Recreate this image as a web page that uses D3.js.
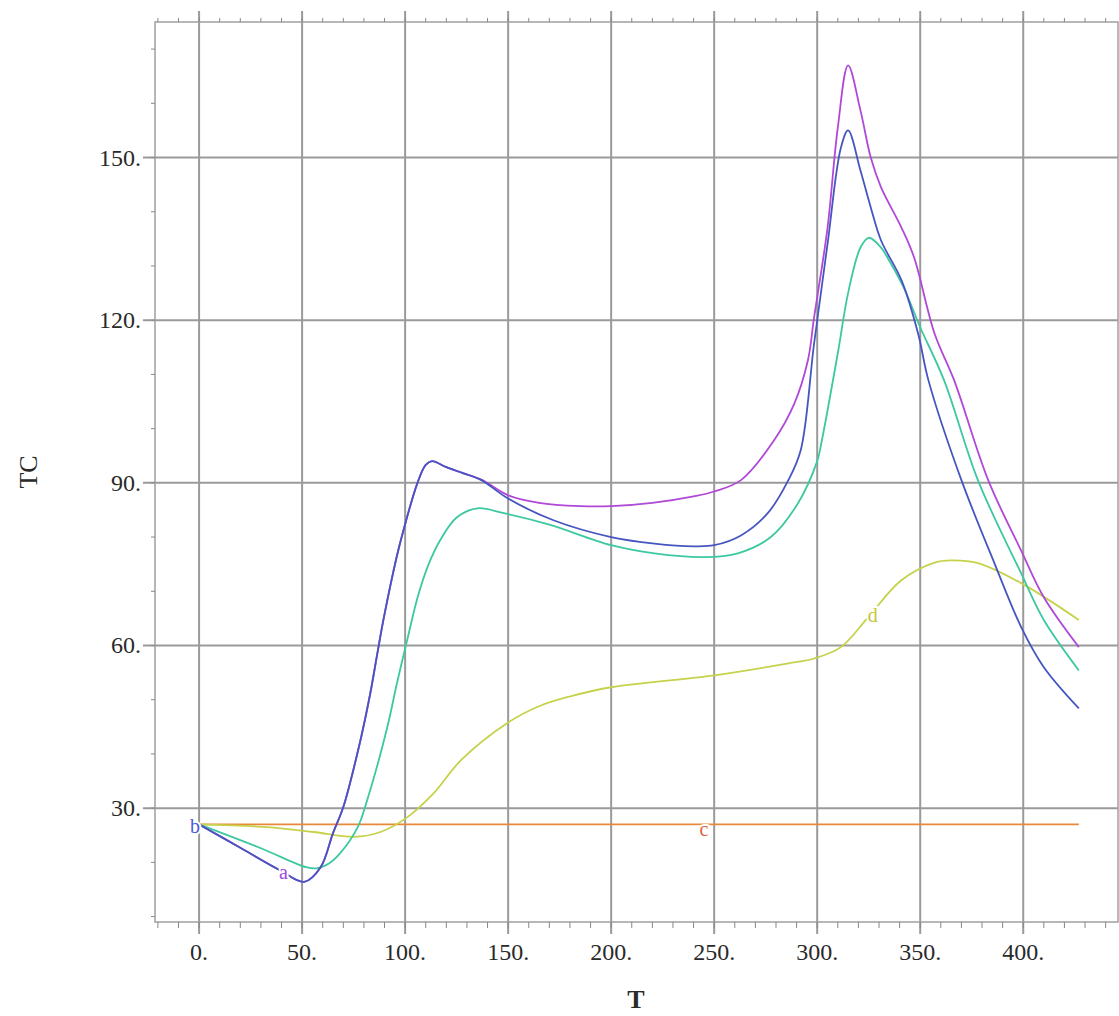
<!DOCTYPE html>
<html>
<head>
<meta charset="utf-8">
<script src="https://cdn.jsdelivr.net/npm/d3@7"></script>
<style>
  body { margin: 0; background: #fff; }
  svg { display: block; }
</style>
</head>
<body>
<div id="chart"></div>
<script>
// curve a (magenta)
const aT = [0, 20, 39, 51, 59, 65, 70, 78, 83, 86.5, 89.6, 96, 99, 106, 110, 113, 120, 128, 137, 150, 165, 185, 200, 220, 240, 250, 263, 279, 289, 295.5, 298.5, 305, 310, 315, 321, 326, 331, 341, 347, 357, 366.5, 383, 399, 410, 427];
const aTC = [27, 22.7, 18.6, 16.4, 19.1, 25.4, 30.2, 42, 51, 58.5, 65, 76.5, 81, 90, 93.3, 94, 92.9, 91.8, 90.6, 87.7, 86.3, 85.7, 85.7, 86.3, 87.5, 88.4, 90.5, 97.8, 104.7, 112.6, 120.5, 137, 155.5, 167, 158.7, 150, 144.5, 137, 131.6, 117.5, 108.9, 90.5, 77.5, 68.9, 59.7];

// curve b (blue)
const bT = [0, 20, 39, 51, 59, 65, 70, 78, 83, 86.5, 89.6, 96, 99, 106, 110, 113, 120, 128, 137, 150, 172, 200, 221, 240, 250, 263, 276, 286, 292, 298.5, 305, 311.5, 315, 321, 326, 331, 341, 349, 354, 370, 386, 399, 410, 427];
const bTC = [27, 22.7, 18.6, 16.4, 19.1, 25.4, 30.2, 42, 51, 58.5, 65, 76.5, 81, 90, 93.3, 94, 92.9, 91.8, 90.5, 87.1, 83.1, 80, 78.8, 78.3, 78.5, 80.3, 84.4, 90.5, 96, 115.7, 134, 151.8, 155, 147.6, 140.8, 134.7, 127.3, 117.5, 108.9, 90.5, 75.2, 63.4, 56, 48.4];

// teal curve
const gT = [0, 30, 52, 57, 63, 68.5, 77, 81.6, 91.4, 96, 101, 106, 111, 117, 125, 135, 148, 170, 200, 221, 245, 261.5, 277.5, 290.6, 300, 302, 310, 315, 321, 325, 331, 334, 342, 350, 361.6, 378, 399, 410, 427];
const gTC = [27, 22.6, 19.1, 18.9, 19.8, 21.7, 26.5, 31.5, 45, 53, 61, 68.8, 74.6, 79.4, 83.6, 85.3, 84.4, 82.3, 78.5, 77, 76.3, 77, 80, 86.2, 94, 97.3, 113.9, 125, 133.4, 135.2, 133.4, 131.6, 126, 118.7, 108.9, 90.5, 73.3, 64.7, 55.4];

// curve c (orange, constant)
const cT = [0, 427];
const cTC = [27, 27];

// curve d (yellow-green)
const dT = [0, 33, 55.6, 75, 88, 101, 114, 127, 150, 165, 179, 200, 250, 286, 298.5, 311.5, 324.7, 340.7, 357, 365, 378, 399, 427];
const dTC = [27, 26.5, 25.6, 24.7, 25.6, 28.3, 32.8, 38.8, 45.8, 48.8, 50.5, 52.3, 54.5, 56.7, 57.6, 59.7, 65.2, 72, 75.3, 75.7, 75.2, 71.5, 64.7];

const xTicks = [0, 50, 100, 150, 200, 250, 300, 350, 400];
const yTicks = [30, 60, 90, 120, 150];

// curve labels: text, T, TC
const labelText = ["b", "a", "c", "d"];
const labelT = [-2, 41, 245, 327];
const labelTC = [26.5, 18, 26, 65.5];
const labelColor = ["#4a5ad8", "#a048e0", "#e0603c", "#c2c836"];

const W = 1119, H = 1016;
const mLeft = 155, mRight = 1118, mTop = 22, mBottom = 922;

const svg = d3.select("#chart").append("svg")
  .attr("width", W)
  .attr("height", H);

const x = d3.scaleLinear().domain([-21.4, 446]).range([mLeft, mRight]);
const y = d3.scaleLinear().domain([9, 175]).range([mBottom, mTop]);

const gridColor = "#9a9a9a";
const font = "'Liberation Serif', 'DejaVu Serif', serif";

// minor ticks every 10
const minorX = d3.range(-20, 446, 10);
const minorY = d3.range(10, 175, 10);

// gridlines (extend a little past frame like the original)
svg.append("g").selectAll("line")
  .data(xTicks).enter().append("line")
  .attr("x1", d => x(d)).attr("x2", d => x(d))
  .attr("y1", mTop - 11).attr("y2", mBottom + 12)
  .attr("stroke", gridColor).attr("stroke-width", 2);

svg.append("g").selectAll("line")
  .data(yTicks).enter().append("line")
  .attr("x1", mLeft - 12).attr("x2", mRight)
  .attr("y1", d => y(d)).attr("y2", d => y(d))
  .attr("stroke", gridColor).attr("stroke-width", 2);

// frame
svg.append("rect")
  .attr("x", mLeft).attr("y", mTop)
  .attr("width", mRight - mLeft).attr("height", mBottom - mTop)
  .attr("fill", "none").attr("stroke", "#a0a0a0").attr("stroke-width", 1.5);

// minor ticks: bottom, top, left
svg.append("g").selectAll("line")
  .data(minorX).enter().append("line")
  .attr("x1", d => x(d)).attr("x2", d => x(d))
  .attr("y1", mBottom).attr("y2", mBottom + 6)
  .attr("stroke", "#888").attr("stroke-width", 1);

svg.append("g").selectAll("line")
  .data(minorX).enter().append("line")
  .attr("x1", d => x(d)).attr("x2", d => x(d))
  .attr("y1", mTop).attr("y2", mTop - 4)
  .attr("stroke", "#888").attr("stroke-width", 1);

svg.append("g").selectAll("line")
  .data(minorY).enter().append("line")
  .attr("x1", mLeft).attr("x2", mLeft - 4)
  .attr("y1", d => y(d)).attr("y2", d => y(d))
  .attr("stroke", "#888").attr("stroke-width", 1);

// tick labels
svg.append("g").selectAll("text")
  .data(xTicks).enter().append("text")
  .attr("x", d => x(d)).attr("y", 960)
  .attr("text-anchor", "middle")
  .style("font-family", font).style("font-size", "24px").style("fill", "#2a2a2a")
  .text(d => d + ".");

svg.append("g").selectAll("text")
  .data(yTicks).enter().append("text")
  .attr("x", 141).attr("y", d => y(d) + 8)
  .attr("text-anchor", "end")
  .style("font-family", font).style("font-size", "24px").style("fill", "#2a2a2a")
  .text(d => d + ".");

// axis titles
svg.append("text")
  .attr("x", 636).attr("y", 1008)
  .attr("text-anchor", "middle")
  .style("font-family", font).style("font-size", "26px").style("font-weight", "bold").style("fill", "#2a2a2a")
  .text("T");

svg.append("text")
  .attr("transform", "translate(37,472) rotate(-90)")
  .attr("text-anchor", "middle")
  .style("font-family", font).style("font-size", "26px").style("fill", "#2a2a2a")
  .text("TC");

// curves
const line = d3.line()
  .x(d => x(d[0]))
  .y(d => y(d[1]))
  .curve(d3.curveCatmullRom.alpha(0.5));

const series = [
  { t: cT, v: cTC, color: "#e8883a" },
  { t: dT, v: dTC, color: "#c6d24a" },
  { t: gT, v: gTC, color: "#3cc8a0" },
  { t: aT, v: aTC, color: "#b048d8" },
  { t: bT, v: bTC, color: "#4656c0" }
];

svg.append("g").selectAll("path")
  .data(series).enter().append("path")
  .attr("d", s => line(s.t.map((t, i) => [t, s.v[i]])))
  .attr("fill", "none")
  .attr("stroke", s => s.color)
  .attr("stroke-width", 1.8);

// curve labels with white halo (line broken around label like the original)
svg.append("g").selectAll("text")
  .data(labelText).enter().append("text")
  .attr("x", (d, i) => x(labelT[i]))
  .attr("y", (d, i) => y(labelTC[i]) + 6)
  .attr("text-anchor", "middle")
  .style("font-family", font).style("font-size", "20px")
  .style("fill", (d, i) => labelColor[i])
  .style("stroke", "#fff").style("stroke-width", 4).style("paint-order", "stroke")
  .text(d => d);
</script>
</body>
</html>
